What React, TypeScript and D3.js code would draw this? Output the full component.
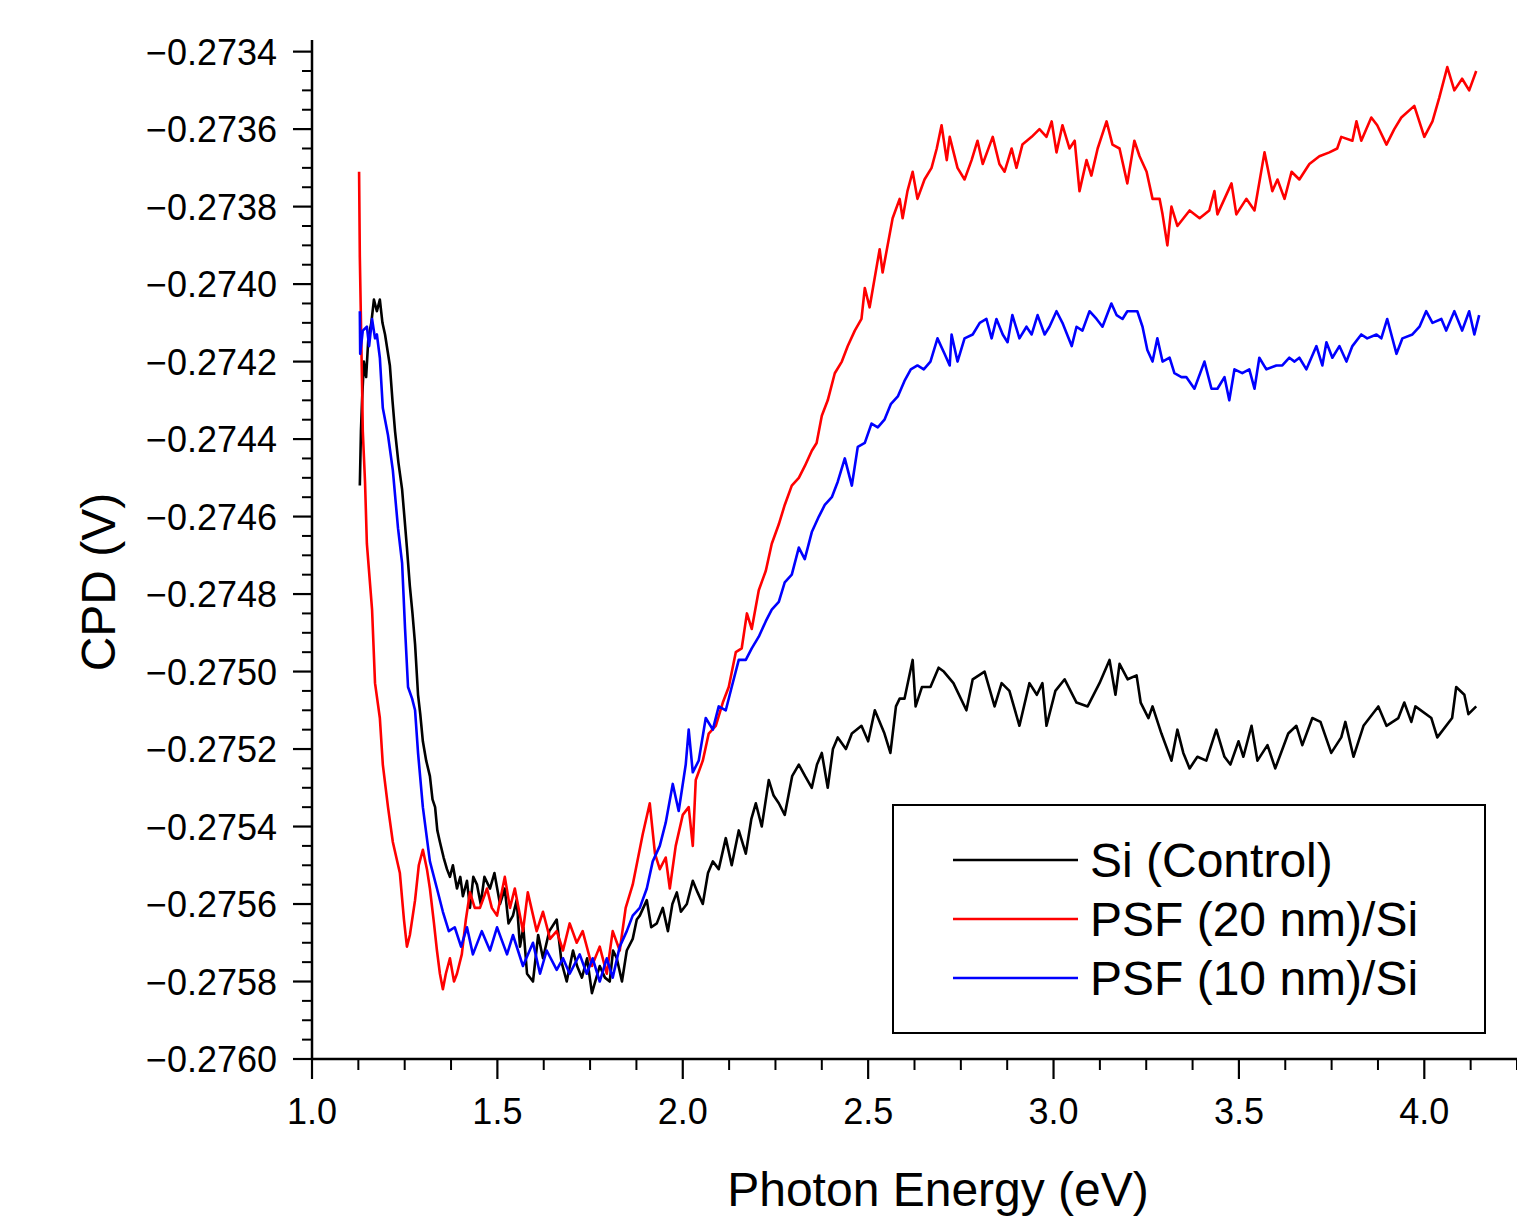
import React from 'react';
import * as d3 from 'd3';

const width = 1517;
const height = 1216;
const margin = { top: 40, left: 312, right: 0, bottom: 157 };

// axis ticks (major), labels as printed
const xTicks = [1.0, 1.5, 2.0, 2.5, 3.0, 3.5, 4.0];
const xTickLabels = ['1.0', '1.5', '2.0', '2.5', '3.0', '3.5', '4.0'];
const yTicks = [-0.2760, -0.2758, -0.2756, -0.2754, -0.2752, -0.2750, -0.2748, -0.2746, -0.2744, -0.2742, -0.2740, -0.2738, -0.2736, -0.2734];
const yTickLabels = ['-0.2760', '-0.2758', '-0.2756', '-0.2754', '-0.2752', '-0.2750', '-0.2748', '-0.2746', '-0.2744', '-0.2742', '-0.2740', '-0.2738', '-0.2736', '-0.2734'];

const seriesNames = ['Si (Control)', 'PSF (20 nm)/Si', 'PSF (10 nm)/Si'];
const seriesColors = ['#000000', '#ff0000', '#0000ff'];

// [photon energy (eV), CPD (V)]
const siControl: [number, number][] = [
  [1.129, -0.27452], [1.132, -0.27438], [1.135, -0.27430], [1.140, -0.27420], [1.146, -0.27424], [1.152, -0.27414],
  [1.160, -0.27410], [1.167, -0.27404], [1.175, -0.27407], [1.183, -0.27404], [1.190, -0.27410], [1.197, -0.27413],
  [1.210, -0.27421], [1.217, -0.27430], [1.224, -0.27438], [1.233, -0.27446], [1.243, -0.27453], [1.250, -0.27461],
  [1.256, -0.27468], [1.264, -0.27478], [1.271, -0.27485], [1.278, -0.27493], [1.286, -0.27506], [1.292, -0.27511],
  [1.299, -0.27518], [1.308, -0.27523], [1.318, -0.27527], [1.325, -0.27533], [1.332, -0.27535], [1.338, -0.27541],
  [1.345, -0.27544], [1.355, -0.27548], [1.364, -0.27551], [1.372, -0.27553], [1.380, -0.27550], [1.391, -0.27556],
  [1.400, -0.27553], [1.407, -0.27558], [1.418, -0.27554], [1.426, -0.27561], [1.435, -0.27553], [1.445, -0.27555],
  [1.455, -0.27560], [1.465, -0.27553], [1.480, -0.27556], [1.492, -0.27552], [1.507, -0.27560], [1.520, -0.27556],
  [1.530, -0.27565], [1.542, -0.27563], [1.552, -0.27559], [1.561, -0.27571], [1.570, -0.27566], [1.580, -0.27578],
  [1.596, -0.27580], [1.610, -0.27568], [1.623, -0.27574], [1.640, -0.27567], [1.660, -0.27564], [1.673, -0.27575],
  [1.687, -0.27580], [1.704, -0.27572], [1.715, -0.27576], [1.728, -0.27579], [1.742, -0.27574], [1.755, -0.27583],
  [1.776, -0.27576], [1.790, -0.27579], [1.803, -0.27580], [1.812, -0.27572], [1.822, -0.27574], [1.836, -0.27580],
  [1.849, -0.27572], [1.865, -0.27569], [1.876, -0.27564], [1.884, -0.27563], [1.903, -0.27559], [1.915, -0.27566],
  [1.930, -0.27565], [1.946, -0.27561], [1.960, -0.27567], [1.972, -0.27560], [1.984, -0.27557], [1.995, -0.27562],
  [2.011, -0.27560], [2.027, -0.27554], [2.040, -0.27557], [2.054, -0.27560], [2.068, -0.27552], [2.081, -0.27549],
  [2.097, -0.27551], [2.116, -0.27543], [2.132, -0.27550], [2.151, -0.27541], [2.170, -0.27547], [2.185, -0.27538],
  [2.197, -0.27534], [2.213, -0.27540], [2.232, -0.27528], [2.245, -0.27532], [2.259, -0.27534], [2.275, -0.27537],
  [2.295, -0.27527], [2.313, -0.27524], [2.330, -0.27527], [2.348, -0.27530], [2.362, -0.27524], [2.375, -0.27521],
  [2.391, -0.27530], [2.405, -0.27520], [2.418, -0.27517], [2.440, -0.27520], [2.456, -0.27516], [2.482, -0.27514],
  [2.500, -0.27518], [2.518, -0.27510], [2.544, -0.27516], [2.560, -0.27521], [2.575, -0.27509], [2.585, -0.27507],
  [2.598, -0.27507], [2.620, -0.27497], [2.628, -0.27509], [2.645, -0.27504], [2.668, -0.27504], [2.690, -0.27499],
  [2.704, -0.27500], [2.730, -0.27503], [2.765, -0.27510], [2.782, -0.27502], [2.814, -0.27500], [2.841, -0.27509],
  [2.860, -0.27503], [2.881, -0.27505], [2.908, -0.27514], [2.935, -0.27503], [2.955, -0.27506], [2.970, -0.27503],
  [2.981, -0.27514], [3.005, -0.27505], [3.030, -0.27502], [3.062, -0.27508], [3.092, -0.27509], [3.124, -0.27503],
  [3.151, -0.27497], [3.167, -0.27506], [3.178, -0.27498], [3.200, -0.27502], [3.224, -0.27501], [3.235, -0.27508],
  [3.256, -0.27512], [3.267, -0.27509], [3.291, -0.27516], [3.318, -0.27523], [3.334, -0.27515], [3.350, -0.27521],
  [3.367, -0.27525], [3.388, -0.27522], [3.412, -0.27523], [3.439, -0.27515], [3.461, -0.27522], [3.477, -0.27524],
  [3.499, -0.27518], [3.512, -0.27522], [3.534, -0.27514], [3.550, -0.27523], [3.577, -0.27519], [3.598, -0.27525],
  [3.633, -0.27516], [3.655, -0.27514], [3.671, -0.27519], [3.698, -0.27512], [3.720, -0.27513], [3.749, -0.27521],
  [3.776, -0.27517], [3.787, -0.27513], [3.809, -0.27522], [3.836, -0.27514], [3.876, -0.27509], [3.898, -0.27514],
  [3.930, -0.27512], [3.946, -0.27508], [3.965, -0.27513], [3.976, -0.27509], [4.019, -0.27512], [4.035, -0.27517],
  [4.075, -0.27512], [4.086, -0.27504], [4.108, -0.27506], [4.119, -0.27511], [4.140, -0.27509],
];

const psf20: [number, number][] = [
  [1.127, -0.27371], [1.129, -0.27393], [1.135, -0.27426], [1.137, -0.27438], [1.143, -0.27451], [1.148, -0.27467],
  [1.162, -0.27484], [1.170, -0.27503], [1.183, -0.27512], [1.191, -0.27524], [1.205, -0.27535], [1.218, -0.27544],
  [1.237, -0.27552], [1.248, -0.27564], [1.256, -0.27571], [1.264, -0.27568], [1.278, -0.27559], [1.288, -0.27550],
  [1.299, -0.27546], [1.310, -0.27551], [1.318, -0.27556], [1.329, -0.27565], [1.337, -0.27572], [1.345, -0.27578],
  [1.353, -0.27582], [1.361, -0.27578], [1.372, -0.27574], [1.383, -0.27580], [1.391, -0.27578], [1.404, -0.27573],
  [1.415, -0.27564], [1.426, -0.27557], [1.439, -0.27561], [1.453, -0.27561], [1.472, -0.27556], [1.485, -0.27561],
  [1.499, -0.27563], [1.520, -0.27553], [1.534, -0.27561], [1.547, -0.27556], [1.569, -0.27567], [1.582, -0.27557],
  [1.606, -0.27567], [1.623, -0.27562], [1.642, -0.27569], [1.660, -0.27567], [1.677, -0.27572], [1.695, -0.27565],
  [1.714, -0.27570], [1.730, -0.27567], [1.755, -0.27576], [1.776, -0.27571], [1.795, -0.27578], [1.811, -0.27567],
  [1.830, -0.27572], [1.846, -0.27561], [1.865, -0.27555], [1.892, -0.27542], [1.911, -0.27534], [1.925, -0.27547],
  [1.938, -0.27551], [1.954, -0.27548], [1.965, -0.27556], [1.981, -0.27545], [2.000, -0.27537], [2.016, -0.27535],
  [2.027, -0.27545], [2.035, -0.27528], [2.054, -0.27523], [2.070, -0.27516], [2.089, -0.27514], [2.108, -0.27508],
  [2.124, -0.27504], [2.143, -0.27495], [2.159, -0.27494], [2.173, -0.27485], [2.186, -0.27489], [2.205, -0.27479],
  [2.224, -0.27474], [2.240, -0.27467], [2.259, -0.27462], [2.275, -0.27457], [2.294, -0.27452], [2.313, -0.27450],
  [2.329, -0.27447], [2.348, -0.27443], [2.361, -0.27441], [2.375, -0.27434], [2.391, -0.27430], [2.410, -0.27423],
  [2.429, -0.27420], [2.445, -0.27416], [2.464, -0.27412], [2.482, -0.27409], [2.491, -0.27401], [2.504, -0.27406],
  [2.531, -0.27391], [2.539, -0.27397], [2.566, -0.27383], [2.585, -0.27378], [2.593, -0.27383], [2.606, -0.27376],
  [2.620, -0.27371], [2.633, -0.27378], [2.652, -0.27373], [2.671, -0.27370], [2.685, -0.27365], [2.698, -0.27359],
  [2.712, -0.27368], [2.720, -0.27362], [2.741, -0.27370], [2.760, -0.27373], [2.779, -0.27368], [2.795, -0.27363],
  [2.809, -0.27369], [2.836, -0.27362], [2.854, -0.27369], [2.868, -0.27371], [2.887, -0.27365], [2.900, -0.27370],
  [2.916, -0.27364], [2.941, -0.27362], [2.962, -0.27360], [2.981, -0.27362], [2.995, -0.27358], [3.008, -0.27366],
  [3.024, -0.27359], [3.043, -0.27365], [3.057, -0.27363], [3.070, -0.27376], [3.089, -0.27368], [3.102, -0.27372],
  [3.119, -0.27365], [3.143, -0.27358], [3.159, -0.27364], [3.178, -0.27365], [3.199, -0.27374], [3.218, -0.27363],
  [3.232, -0.27367], [3.251, -0.27371], [3.267, -0.27378], [3.286, -0.27378], [3.294, -0.27382], [3.307, -0.27390],
  [3.318, -0.27380], [3.334, -0.27385], [3.367, -0.27381], [3.394, -0.27383], [3.420, -0.27381], [3.434, -0.27376],
  [3.442, -0.27382], [3.480, -0.27374], [3.493, -0.27382], [3.520, -0.27378], [3.542, -0.27381], [3.569, -0.27366],
  [3.590, -0.27376], [3.604, -0.27373], [3.623, -0.27378], [3.642, -0.27371], [3.663, -0.27373], [3.690, -0.27369],
  [3.717, -0.27367], [3.744, -0.27366], [3.765, -0.27365], [3.776, -0.27362], [3.806, -0.27363], [3.817, -0.27358],
  [3.830, -0.27363], [3.857, -0.27357], [3.873, -0.27359], [3.898, -0.27364], [3.919, -0.27360], [3.938, -0.27357],
  [3.973, -0.27354], [4.000, -0.27362], [4.022, -0.27358], [4.040, -0.27352], [4.062, -0.27344], [4.081, -0.27350],
  [4.102, -0.27347], [4.121, -0.27350], [4.140, -0.27345],
];

const psf10: [number, number][] = [
  [1.129, -0.27407], [1.130, -0.27418], [1.137, -0.27412], [1.148, -0.27411], [1.154, -0.27416], [1.162, -0.27409],
  [1.170, -0.27414], [1.175, -0.27413], [1.183, -0.27419], [1.191, -0.27432], [1.205, -0.27439], [1.218, -0.27448],
  [1.232, -0.27463], [1.243, -0.27472], [1.251, -0.27489], [1.259, -0.27504], [1.270, -0.27507], [1.278, -0.27510],
  [1.286, -0.27521], [1.299, -0.27535], [1.318, -0.27549], [1.337, -0.27556], [1.353, -0.27562], [1.369, -0.27567],
  [1.385, -0.27566], [1.402, -0.27571], [1.418, -0.27566], [1.434, -0.27573], [1.458, -0.27567], [1.480, -0.27572],
  [1.499, -0.27566], [1.526, -0.27573], [1.542, -0.27568], [1.569, -0.27576], [1.596, -0.27570], [1.615, -0.27578],
  [1.633, -0.27572], [1.660, -0.27577], [1.677, -0.27574], [1.695, -0.27578], [1.722, -0.27573], [1.741, -0.27578],
  [1.757, -0.27574], [1.776, -0.27580], [1.795, -0.27574], [1.811, -0.27579], [1.830, -0.27571], [1.849, -0.27567],
  [1.865, -0.27563], [1.884, -0.27561], [1.903, -0.27556], [1.919, -0.27549], [1.938, -0.27545], [1.954, -0.27539],
  [1.973, -0.27529], [1.989, -0.27536], [2.008, -0.27524], [2.016, -0.27515], [2.027, -0.27526], [2.043, -0.27523],
  [2.062, -0.27512], [2.081, -0.27515], [2.097, -0.27509], [2.116, -0.27510], [2.132, -0.27504], [2.151, -0.27497],
  [2.170, -0.27497], [2.186, -0.27494], [2.205, -0.27491], [2.224, -0.27487], [2.240, -0.27484], [2.259, -0.27482],
  [2.275, -0.27477], [2.294, -0.27475], [2.313, -0.27468], [2.329, -0.27471], [2.348, -0.27464], [2.367, -0.27460],
  [2.383, -0.27457], [2.402, -0.27455], [2.418, -0.27451], [2.437, -0.27445], [2.456, -0.27452], [2.472, -0.27442],
  [2.491, -0.27441], [2.509, -0.27436], [2.526, -0.27437], [2.544, -0.27435], [2.561, -0.27431], [2.580, -0.27429],
  [2.598, -0.27425], [2.615, -0.27422], [2.633, -0.27421], [2.650, -0.27422], [2.668, -0.27420], [2.687, -0.27414],
  [2.706, -0.27418], [2.720, -0.27421], [2.725, -0.27413], [2.741, -0.27420], [2.760, -0.27414], [2.782, -0.27413],
  [2.801, -0.27410], [2.819, -0.27409], [2.833, -0.27414], [2.846, -0.27409], [2.863, -0.27413], [2.876, -0.27415],
  [2.889, -0.27408], [2.908, -0.27414], [2.927, -0.27411], [2.941, -0.27413], [2.957, -0.27408], [2.976, -0.27413],
  [2.989, -0.27411], [3.008, -0.27407], [3.024, -0.27410], [3.049, -0.27416], [3.062, -0.27411], [3.078, -0.27412],
  [3.097, -0.27407], [3.116, -0.27409], [3.132, -0.27411], [3.156, -0.27405], [3.170, -0.27408], [3.186, -0.27409],
  [3.199, -0.27407], [3.213, -0.27407], [3.226, -0.27407], [3.240, -0.27411], [3.253, -0.27417], [3.267, -0.27420],
  [3.280, -0.27414], [3.294, -0.27420], [3.313, -0.27419], [3.326, -0.27423], [3.345, -0.27424], [3.358, -0.27424],
  [3.380, -0.27427], [3.407, -0.27420], [3.426, -0.27427], [3.442, -0.27427], [3.461, -0.27424], [3.474, -0.27430],
  [3.488, -0.27422], [3.509, -0.27423], [3.528, -0.27422], [3.542, -0.27427], [3.555, -0.27419], [3.574, -0.27422],
  [3.601, -0.27421], [3.617, -0.27421], [3.636, -0.27419], [3.650, -0.27420], [3.663, -0.27419], [3.682, -0.27422],
  [3.709, -0.27416], [3.725, -0.27421], [3.736, -0.27415], [3.752, -0.27419], [3.771, -0.27416], [3.790, -0.27420],
  [3.806, -0.27416], [3.830, -0.27413], [3.846, -0.27414], [3.871, -0.27413], [3.884, -0.27414], [3.900, -0.27409],
  [3.925, -0.27418], [3.941, -0.27414], [3.968, -0.27413], [3.987, -0.27411], [4.005, -0.27407], [4.022, -0.27410],
  [4.046, -0.27409], [4.059, -0.27412], [4.081, -0.27407], [4.102, -0.27412], [4.121, -0.27407], [4.135, -0.27413],
  [4.148, -0.27408],
];

const allSeries = [siControl, psf20, psf10];

const font = '"Liberation Sans", Arial, sans-serif';

export default function App() {
  const x = d3.scaleLinear().domain([1.0, 4.25]).range([margin.left, width - margin.right]);
  const y = d3.scaleLinear().domain([-0.2760, -0.27337]).range([height - margin.bottom, margin.top]);
  const line = d3.line<[number, number]>().x(d => x(d[0])).y(d => y(d[1]));

  const x0 = x(1.0);
  const y0 = y(-0.2760);
  const xMinor = d3.range(0, 27).filter(i => i % 4 !== 0).map(i => 1 + i * 0.125);
  const yMinor = d3.range(0, 53).filter(i => i % 4 !== 0).map(i => -0.2760 + i * 0.00005);

  const legend = { x: 893, y: 805, w: 592, h: 228 };

  return (
    <svg width={width} height={height} style={{ position: 'absolute', left: 0, top: 0, background: '#fff' }}
      fontFamily={font}>
      <rect x={0} y={0} width={width} height={height} fill="#fff" />

      {/* series */}
      {allSeries.map((s, i) => (
        <path key={i} d={line(s) || ''} fill="none" stroke={seriesColors[i]} strokeWidth={2.6}
          strokeLinejoin="round" />
      ))}

      {/* y axis */}
      <line x1={x0} x2={x0} y1={margin.top} y2={y0} stroke="#000" strokeWidth={2.5} />
      {yTicks.map((t, i) => (
        <g key={'yt' + i}>
          <line x1={x0 - 19} x2={x0} y1={y(t)} y2={y(t)} stroke="#000" strokeWidth={2.2} />
          <text x={277} y={y(t) + 13} textAnchor="end" fontSize={36} fill="#000">
            {yTickLabels[i].replace('-', '\u2212')}
          </text>
        </g>
      ))}
      {yMinor.map((t, i) => (
        <line key={'ym' + i} x1={x0 - 10} x2={x0} y1={y(t)} y2={y(t)} stroke="#000" strokeWidth={2} />
      ))}

      {/* x axis */}
      <line x1={x0} x2={width} y1={y0} y2={y0} stroke="#000" strokeWidth={2.5} />
      {xTicks.map((t, i) => (
        <g key={'xt' + i}>
          <line x1={x(t)} x2={x(t)} y1={y0} y2={y0 + 20} stroke="#000" strokeWidth={2.2} />
          <text x={x(t)} y={1124} textAnchor="middle" fontSize={36} fill="#000">{xTickLabels[i]}</text>
        </g>
      ))}
      {xMinor.map((t, i) => (
        <line key={'xm' + i} x1={x(t)} x2={x(t)} y1={y0} y2={y0 + 11} stroke="#000" strokeWidth={2} />
      ))}

      {/* axis titles */}
      <text x={938} y={1206} textAnchor="middle" fontSize={48} fill="#000">Photon Energy (eV)</text>
      <text transform={`translate(115,582) rotate(-90)`} textAnchor="middle" fontSize={48} fill="#000">CPD (V)</text>

      {/* legend */}
      <rect x={legend.x} y={legend.y} width={legend.w} height={legend.h} fill="#fff" stroke="#000" strokeWidth={2} />
      {seriesNames.map((n, i) => {
        const ly = 860 + i * 59;
        return (
          <g key={'lg' + i}>
            <line x1={953} x2={1078} y1={ly} y2={ly} stroke={seriesColors[i]} strokeWidth={2.4} />
            <text x={1090} y={ly + 17} fontSize={48} fill="#000">{n}</text>
          </g>
        );
      })}
    </svg>
  );
}
